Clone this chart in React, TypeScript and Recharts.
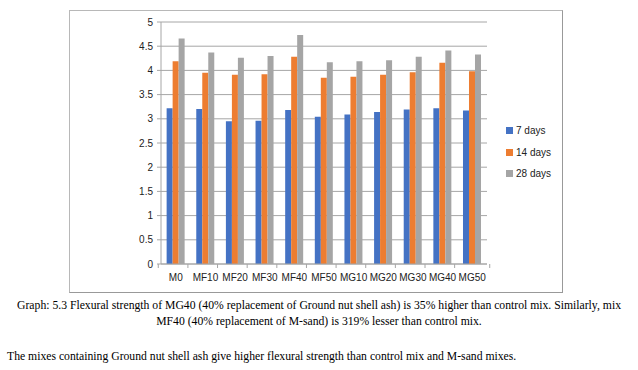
import { BarChart, Bar, XAxis, YAxis, CartesianGrid, Legend } from "recharts";

const mixes = ["M0", "MF10", "MF20", "MF30", "MF40", "MF50", "MG10", "MG20", "MG30", "MG40", "MG50"];
const days7 = [3.22, 3.2, 2.95, 2.96, 3.18, 3.04, 3.09, 3.14, 3.19, 3.22, 3.17];
const days14 = [4.19, 3.95, 3.91, 3.92, 4.28, 3.85, 3.87, 3.91, 3.96, 4.16, 3.98];
const days28 = [4.66, 4.37, 4.26, 4.3, 4.73, 4.17, 4.19, 4.21, 4.28, 4.41, 4.33];
const yTicks = [0, 0.5, 1, 1.5, 2, 2.5, 3, 3.5, 4, 4.5, 5];

const seriesInfo = [
  { key: "d7", name: "7 days", color: "#4472C4" },
  { key: "d14", name: "14 days", color: "#ED7D31" },
  { key: "d28", name: "28 days", color: "#A5A5A5" },
];

const data = mixes.map((m, i) => ({ mix: m, d7: days7[i], d14: days14[i], d28: days28[i] }));

const axisFont = "'Liberation Sans', Arial, sans-serif";
const serif = "'Liberation Serif', 'Times New Roman', serif";
const gridColor = "#a6a6a6";
const halfBand = (487 - 101) / mixes.length / 2;

function MixTick(props: any) {
  const { x, y, payload, index } = props;
  return (
    <g>
      <line x1={x - halfBand} y1={y - 8} x2={x - halfBand} y2={y - 4} stroke={gridColor} />
      {index === mixes.length - 1 && (
        <line x1={x + halfBand} y1={y - 8} x2={x + halfBand} y2={y - 4} stroke={gridColor} />
      )}
      <text x={x} y={y + 9} textAnchor="middle" fontSize={10} fill="#222" fontFamily={axisFont}>
        {payload.value}
      </text>
    </g>
  );
}

function LegendBox() {
  return (
    <div style={{ fontFamily: axisFont, fontSize: 10, color: "#222" }}>
      {seriesInfo.map((s) => (
        <div key={s.key} style={{ display: "flex", alignItems: "center", height: 21.5 }}>
          <span style={{ width: 7, height: 7, background: s.color, marginRight: 3, display: "inline-block" }} />
          {s.name}
        </div>
      ))}
    </div>
  );
}

export default function App() {
  return (
    <div style={{ position: "absolute", left: 0, top: 0, width: 638, height: 370, background: "#fff" }}>
      <div
        style={{
          position: "absolute",
          left: 69,
          top: 10,
          width: 492,
          height: 281,
          border: "1px solid #b8b8b8",
          borderRightColor: "#999",
          borderBottomColor: "#999",
        }}
      />
      <div style={{ position: "absolute", left: 0, top: 0 }}>
        <BarChart
          width={562}
          height={292}
          data={data}
          margin={{ top: 22, right: 75, left: 61, bottom: 10 }}
          barCategoryGap="19%"
          barGap={0}
        >
          <CartesianGrid vertical={false} stroke={gridColor} />
          <XAxis
            dataKey="mix"
            height={18}
            tickLine={false}
            axisLine={{ stroke: gridColor }}
            tick={<MixTick />}
            interval={0}
          />
          <YAxis
            width={40}
            domain={[0, 5]}
            ticks={yTicks}
            tickSize={4}
            tickLine={{ stroke: gridColor }}
            axisLine={{ stroke: gridColor }}
            tick={{ fontSize: 10, fill: "#222", fontFamily: axisFont }}
            tickMargin={4}
          />
          <Legend
            layout="vertical"
            verticalAlign="top"
            align="left"
            content={<LegendBox />}
            wrapperStyle={{ left: 506, top: 120, width: 60 }}
          />
          {seriesInfo.map((s) => (
            <Bar key={s.key} dataKey={s.key} name={s.name} fill={s.color} isAnimationActive={false} />
          ))}
        </BarChart>
      </div>
      <div
        style={{
          position: "absolute",
          left: 0,
          top: 298,
          width: 638,
          textAlign: "center",
          fontFamily: serif,
          fontSize: 11.7,
          lineHeight: "16px",
          color: "#000",
        }}
      >
        Graph: 5.3 Flexural strength of MG40 (40% replacement of Ground nut shell ash) is 35% higher than control mix. Similarly, mix
        <br />
        MF40 (40% replacement of M-sand) is 319% lesser than control mix.
      </div>
      <div
        style={{
          position: "absolute",
          left: 7,
          top: 349,
          fontFamily: serif,
          fontSize: 11.7,
          lineHeight: "16px",
          color: "#000",
          whiteSpace: "nowrap",
        }}
      >
        The mixes containing Ground nut shell ash give higher flexural strength than control mix and M-sand mixes.
      </div>
    </div>
  );
}
